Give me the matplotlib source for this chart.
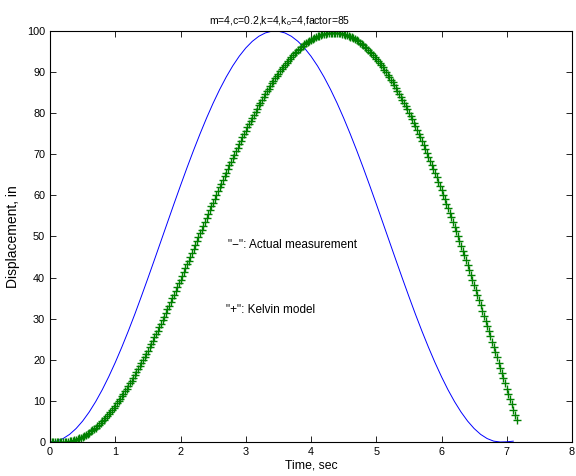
import numpy as np
import matplotlib
matplotlib.use("Agg")
import matplotlib.pyplot as plt

plt.rcParams['font.family'] = ['Liberation Sans', 'DejaVu Sans']
plt.rcParams['mathtext.fontset'] = 'custom'
plt.rcParams['mathtext.rm'] = 'Liberation Sans'

# measured displacement, sampled every 0.1 s
meas_t_step = 0.1
meas_disp = [
    0.0, 0.21, 0.83, 1.85, 3.28, 5.09, 7.28, 9.82, 12.69, 15.88,
    19.34, 23.06, 26.99, 31.11, 35.42, 39.83, 44.32, 48.86, 53.41, 57.94,
    62.39, 66.75, 70.96, 75.00, 78.84, 82.44, 85.76, 88.79, 91.50, 93.86,
    95.86, 97.48, 98.71, 99.53, 99.95, 99.95, 99.53, 98.71, 97.48, 95.86,
    93.86, 91.50, 88.79, 85.76, 82.44, 78.84, 75.00, 70.96, 66.75, 62.39,
    57.94, 53.41, 48.86, 44.32, 39.83, 35.42, 31.11, 26.99, 23.06, 19.34,
    15.88, 12.69, 9.82, 7.28, 5.09, 3.28, 1.85, 0.83, 0.21, 0.0,
    0.05, 0.2,
]

# Kelvin model output, sampled every 0.025 s
model_t_step = 0.025
model_disp = [
    0.0, 0.0, 0.0, 0.0, 0.0, 0.0, 0.0, 0.0,
    0.00, 0.01, 0.04, 0.08, 0.14, 0.22, 0.32, 0.44, 0.57, 0.72,
    0.89, 1.08, 1.28, 1.50, 1.74, 1.99, 2.27, 2.56, 2.86, 3.19,
    3.52, 3.88, 4.25, 4.64, 5.05, 5.47, 5.91, 6.36, 6.83, 7.31,
    7.81, 8.33, 8.86, 9.40, 9.96, 10.54, 11.12, 11.73, 12.34, 12.97,
    13.61, 14.27, 14.93, 15.62, 16.30, 17.02, 17.72, 18.46, 19.19, 19.92,
    20.70, 21.45, 22.26, 23.02, 23.82, 24.63, 25.45, 26.27, 27.11, 27.95,
    28.80, 29.66, 30.53, 31.40, 32.28, 33.16, 34.05, 34.95, 35.85, 36.76,
    37.67, 38.59, 39.51, 40.43, 41.36, 42.29, 43.22, 44.16, 45.09, 46.03,
    46.97, 47.92, 48.86, 49.80, 50.74, 51.69, 52.63, 53.57, 54.51, 55.44,
    56.38, 57.31, 58.24, 59.17, 60.09, 61.01, 61.93, 62.84, 63.75, 64.65,
    65.55, 66.44, 67.32, 68.20, 69.07, 69.94, 70.80, 71.65, 72.49, 73.33,
    74.15, 74.97, 75.78, 76.58, 77.34, 78.15, 78.90, 79.68, 80.41, 81.14,
    81.88, 82.58, 83.30, 83.98, 84.67, 85.33, 86.00, 86.63, 87.27, 87.87,
    88.48, 89.06, 89.64, 90.20, 90.74, 91.27, 91.79, 92.29, 92.77, 93.24,
    93.69, 94.13, 94.55, 94.96, 95.35, 95.72, 96.08, 96.42, 96.74, 97.04,
    97.33, 97.61, 97.86, 98.10, 98.32, 98.53, 98.71, 98.88, 99.03, 99.16,
    99.28, 99.38, 99.46, 99.52, 99.56, 99.59, 99.60,
    99.59, 99.56, 99.51, 99.45, 99.36, 99.26, 99.13, 98.99, 98.83, 98.65,
    98.45, 98.23, 97.99, 97.73, 97.46, 97.16, 96.85, 96.52, 96.17, 95.80,
    95.42, 95.01, 94.59, 94.15, 93.69, 93.22, 92.72, 92.21, 91.68, 91.14,
    90.58, 89.99, 89.40, 88.78, 88.15, 87.51, 86.84, 86.16, 85.47, 84.75,
    84.03, 83.28, 82.52, 81.75, 80.96, 80.15, 79.34, 78.50, 77.66, 76.79,
    75.92, 75.03, 74.12, 73.22, 72.28, 71.35, 70.38, 69.43, 68.43, 67.44,
    66.43, 65.42, 64.39, 63.35, 62.30, 61.24, 60.17, 59.09, 57.99, 56.89,
    55.78, 54.66, 53.53, 52.40, 51.25, 50.10, 48.93, 47.76, 46.59, 45.40,
    44.21, 43.01, 41.81, 40.59, 39.38, 38.16, 36.93, 35.70, 34.46, 33.22,
    31.97, 30.72, 29.47, 28.21, 26.95, 25.69, 24.42, 23.15, 21.88, 20.61,
    19.34, 18.07, 16.79, 15.52, 14.24, 12.97, 11.69, 10.42, 9.15, 7.88,
    6.60, 5.34,
]

t_meas = np.arange(len(meas_disp)) * meas_t_step
t_model = np.arange(len(model_disp)) * model_t_step

x_ticks = [0, 1, 2, 3, 4, 5, 6, 7, 8]
y_ticks = [0, 10, 20, 30, 40, 50, 60, 70, 80, 90, 100]

fig = plt.figure(figsize=(5.76, 4.76), dpi=100)
ax = fig.add_axes([50 / 576, 1 - 442 / 476, 522 / 576, 411 / 476])

ax.plot(t_meas, meas_disp, color=(0, 0, 1), lw=0.7)
ax.plot(t_model, model_disp, color=(0, 0.5, 0), lw=0, marker='+',
        ms=6, mew=1.0)

ax.set_xlim(0, 8)
ax.set_ylim(0, 100)
ax.set_xticks(x_ticks)
ax.set_yticks(y_ticks)
ax.tick_params(direction='in', length=4, width=0.6, labelsize=7.8,
               top=True, right=True, pad=3.5)
for s in ax.spines.values():
    s.set_linewidth(0.8)

ax.set_title(r'm=4,c=0.2,k=4,k$_{\rm o}$=4,factor=85', fontsize=7.5,
             x=0.44, pad=5)
ax.set_xlabel('Time, sec', fontsize=8.8, labelpad=2)
ax.set_ylabel('Displacement, in', fontsize=10, labelpad=5)

ax.text(2.73, 47.9, '"\u2212": Actual measurement', fontsize=8.5,
        ha='left', va='center')
ax.text(2.70, 32.1, '"+": Kelvin model', fontsize=8.5, ha='left',
        va='center')

fig.savefig('out.png', dpi=100)
